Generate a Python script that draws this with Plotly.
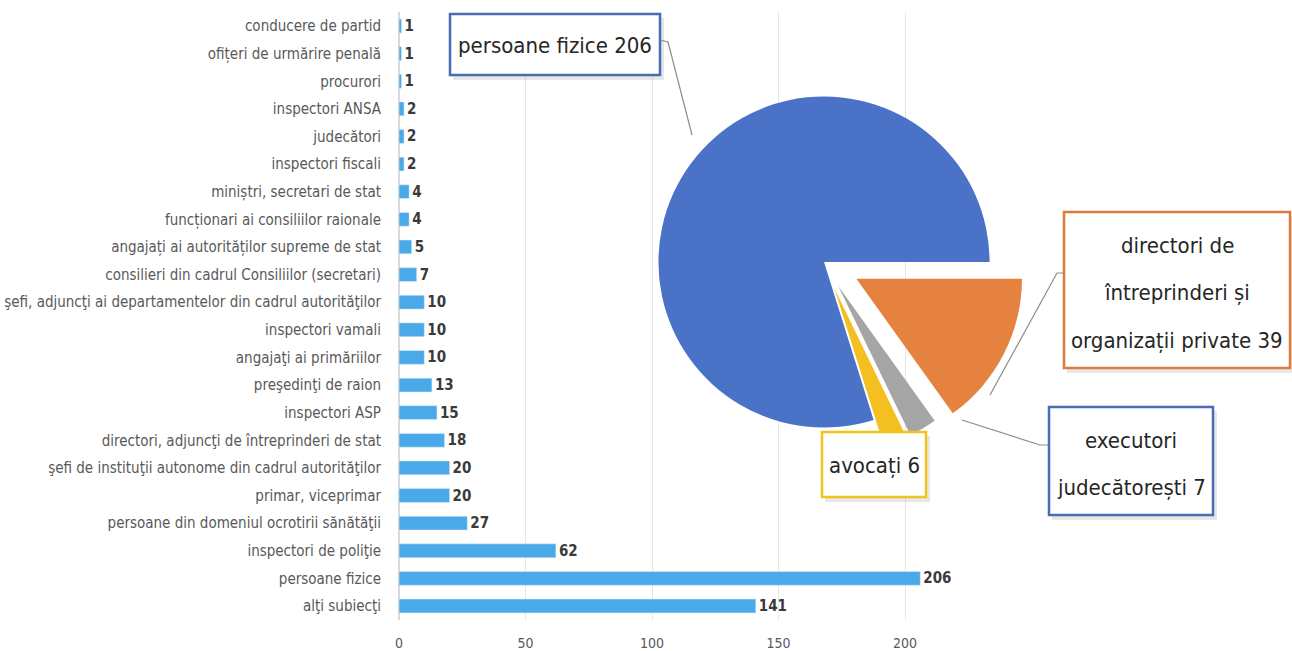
import plotly.graph_objects as go

# ---------------- data ----------------
categories = [
    "conducere de partid",
    "ofițeri de urmărire penală",
    "procurori",
    "inspectori ANSA",
    "judecători",
    "inspectori fiscali",
    "miniștri, secretari de stat",
    "funcționari ai consiliilor raionale",
    "angajați ai autorităților supreme de stat",
    "consilieri din cadrul Consiliilor (secretari)",
    "şefi, adjuncţi ai departamentelor din cadrul autorităţilor",
    "inspectori vamali",
    "angajaţi ai primăriilor",
    "preşedinţi de raion",
    "inspectori ASP",
    "directori, adjuncţi de întreprinderi de stat",
    "şefi de instituţii autonome din cadrul autorităţilor",
    "primar, viceprimar",
    "persoane din domeniul ocrotirii sănătăţii",
    "inspectori de poliţie",
    "persoane fizice",
    "alţi subiecţi",
]
values = [1, 1, 1, 2, 2, 2, 4, 4, 5, 7, 10, 10, 10, 13, 15, 18, 20, 20, 27, 62, 206, 141]
x_ticks = [0, 50, 100, 150, 200]

pie_labels = ["directori de întreprinderi și organizații private", "executori judecătorești", "avocați", "persoane fizice"]
pie_values = [39, 7, 6, 206]
pie_box_lines = [
    ["directori de", "întreprinderi și", "organizații private 39"],
    ["executori", "judecătorești 7"],
    ["avocați 6"],
    ["persoane fizice 206"],
]

W, H = 1292, 651
FONT = "DejaVu Sans Condensed, Liberation Sans Narrow, sans-serif"

def px(x):
    return x / W

def py(y):
    return 1 - y / H

fig = go.Figure()

fig.add_trace(go.Bar(
    y=categories, x=values, orientation="h",
    marker=dict(color="#4aa9e9"),
    width=0.5,
    text=values, texttemplate="<b>%{x}</b>", textposition="outside",
    textfont=dict(family=FONT, size=15, color="#3a3a3a"),
    constraintext="none",
    cliponaxis=False,
    showlegend=False,
))

fig.add_trace(go.Pie(
    labels=pie_labels, values=pie_values,
    marker=dict(colors=["#e5823f", "#a5a5a5", "#f4c021", "#4a72c6"]),
    sort=False, direction="clockwise", rotation=90,
    pull=[0.22, 0.17, 0.17, 0],
    textinfo="none", showlegend=False,
    domain=dict(x=[px(622), px(1026)], y=[py(464), py(60)]),
))

fig.update_layout(
    width=W, height=H,
    margin=dict(l=0, r=0, t=0, b=0),
    paper_bgcolor="white", plot_bgcolor="white",
    font=dict(family=FONT, color="#595959"),
    xaxis=dict(
        domain=[px(399), px(940)],
        range=[0, 213.8],
        tickvals=x_ticks,
        showgrid=True, gridcolor="#e6e6e6", gridwidth=1,
        zeroline=True, zerolinecolor="#d9d9d9",
        tickfont=dict(size=14, color="#595959"),
        ticks="outside", ticklen=10, tickcolor="rgba(0,0,0,0)",
        automargin=False,
    ),
    yaxis=dict(
        domain=[py(619.8), py(12.2)],
        categoryorder="array", categoryarray=categories,
        range=[21.5, -0.5],
        tickfont=dict(size=15, color="#595959"),
        ticks="outside", ticklen=14, tickcolor="rgba(0,0,0,0)",
        showgrid=False, showline=False,
        automargin=False,
    ),
)

# label boxes (x0, y0, x1, y1, border colour) and text line centres
box_specs = [
    ((1064, 212, 1290, 368), "#e07a3c", 1177, [245, 292, 340]),
    ((1049, 407, 1213, 515), "#4a6cb5", 1131, [440, 487]),
    ((822, 432, 926, 497), "#f2c21d", 874, [465]),
    ((450, 14, 660, 75), "#4a6cb5", 555, [45]),
]
for lines_txt, (box, bc, cx, ys) in zip(pie_box_lines, box_specs):
    x0, y0, x1, y1 = box
    # soft shadow
    fig.add_shape(type="rect", xref="paper", yref="paper",
                  x0=px(x0 + 3), x1=px(x1 + 4), y0=py(y1 + 5), y1=py(y0 + 4),
                  fillcolor="rgba(120,120,120,0.18)", line=dict(width=0))
    fig.add_shape(type="rect", xref="paper", yref="paper",
                  x0=px(x0), x1=px(x1), y0=py(y1), y1=py(y0),
                  fillcolor="white", line=dict(color=bc, width=2.5))
    for t, y in zip(lines_txt, ys):
        fig.add_annotation(
            x=px(cx), y=py(y), xref="paper", yref="paper",
            xanchor="center", yanchor="middle",
            text=t, showarrow=False,
            font=dict(family=FONT, size=22, color="#262626"),
        )

# leader lines
lines = [
    [(660, 40), (668, 42), (692, 135)],
    [(1064, 273), (1057, 273), (990, 395)],
    [(962, 420), (1040, 445), (1049, 445)],
]
for pts in lines:
    path = "M " + " L ".join(f"{px(a)},{py(b)}" for a, b in pts)
    fig.add_shape(type="path", path=path, xref="paper", yref="paper",
                  line=dict(color="#8c8c8c", width=1.2))

fig.write_html(
    "out.html",
    config={"displayModeBar": False},
    post_script="document.body.style.margin='0px';document.body.style.overflow='hidden';",
)
